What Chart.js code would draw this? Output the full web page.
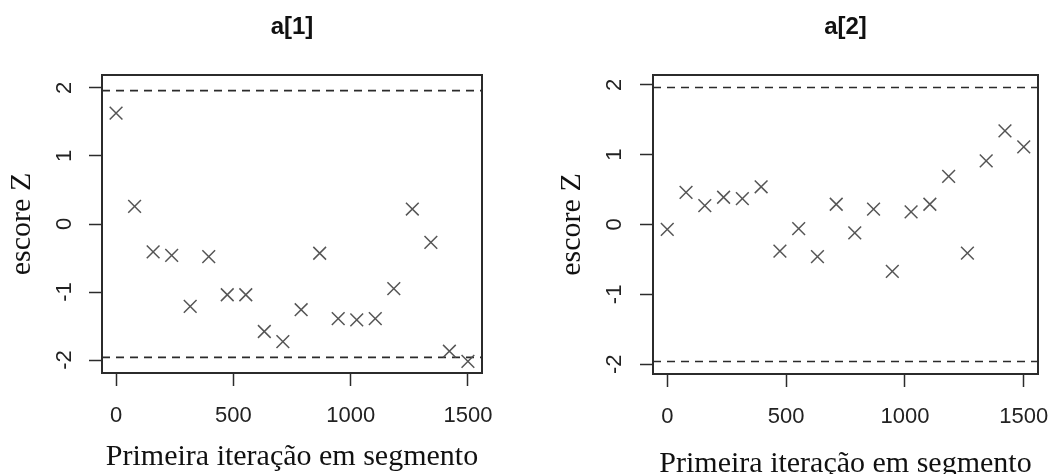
<!DOCTYPE html>
<html>
<head>
<meta charset="utf-8">
<script src="https://cdn.jsdelivr.net/npm/chart.js@4"></script>
<style>
    body { margin: 0; background: #fff; overflow: hidden; }
    canvas { position: absolute; top: 0; }
    #panelA1 { left: 0; }
    #panelA2 { left: 530px; }
</style>
</head>
<body>
<canvas id="panelA1" width="530" height="474"></canvas>
<canvas id="panelA2" width="523" height="474"></canvas>
<script>
// first iteration of each segment (20 segments)
const iterStart = [0, 79, 158, 237, 316, 395, 474, 553, 632, 711, 789, 868, 947, 1026, 1105, 1184, 1263, 1342, 1421, 1500];

// Geweke z-scores
const zA1 = [1.63, 0.26, -0.41, -0.46, -1.21, -0.48, -1.04, -1.04, -1.58, -1.73, -1.26, -0.43, -1.39, -1.41, -1.39, -0.95, 0.22, -0.27, -1.87, -2.02];
const zA2 = [-0.07, 0.46, 0.27, 0.39, 0.37, 0.54, -0.38, -0.06, -0.46, 0.29, -0.12, 0.22, -0.67, 0.18, 0.29, 0.69, -0.41, 0.91, 1.34, 1.11];

const xTicks = [0, 500, 1000, 1500];
const yTicks = [-2, -1, 0, 1, 2];
const zCrit = [-1.96, 1.96];
const xRange = [-60, 1560];
const yLimA1 = 2.19;
const yLimA2 = 2.14;

const xLabel = "Primeira iteração em segmento";
const yLabel = "escore Z";

const ink = "#2b2b2b";
const sans = "'Liberation Sans', Arial, sans-serif";
const serif = "'Liberation Serif', 'Times New Roman', serif";

function makePanel(id, title, z, yLim, g) {
    let ctx = document.getElementById(id);

    let points = iterStart.map((x, i) => ({ x: x, y: z[i] }));

    // dashed +-1.96 reference lines
    let refLines = zCrit.map(c => ({
        type: "line",
        data: [{ x: xRange[0], y: c }, { x: xRange[1], y: c }],
        borderColor: ink,
        borderWidth: 1.6,
        borderDash: [8, 6],
        pointRadius: 0,
        fill: false
    }));

    return new Chart(ctx, {
        type: "scatter",
        data: {
            datasets: [{
                data: points,
                pointStyle: "crossRot",
                pointRadius: 9,
                borderColor: "#555",
                backgroundColor: "rgba(0,0,0,0)",
                pointBorderWidth: 1.5
            }, ...refLines]
        },
        options: {
            responsive: false,
            animation: false,
            events: [],
            layout: { padding: 0 },
            plugins: {
                legend: { display: false },
                tooltip: { enabled: false }
            },
            scales: {
                x: {
                    type: "linear",
                    position: "bottom",
                    min: xRange[0],
                    max: xRange[1],
                    afterBuildTicks: s => { s.ticks = xTicks.map(v => ({ value: v })); },
                    afterFit: s => {
                        s.height = 474 - g.bottom;
                        s.paddingLeft = 0;
                        s.paddingRight = 0;
                    },
                    grid: { drawOnChartArea: false, tickLength: 13, tickWidth: 1.5, tickColor: ink },
                    border: { display: true, width: 2, color: ink },
                    ticks: {
                        color: "#222",
                        font: { family: sans, size: 22 },
                        padding: g.xTickPad,
                        maxRotation: 0,
                        autoSkip: false,
                        callback: v => String(v)
                    },
                    title: {
                        display: true,
                        text: xLabel,
                        color: "#111",
                        font: { family: serif, size: 30 },
                        padding: { top: 0, bottom: g.xTitlePad }
                    }
                },
                x2: {
                    type: "linear",
                    position: "top",
                    afterFit: s => { s.height = g.top; },
                    grid: { display: false },
                    border: { display: true, width: 2, color: ink },
                    ticks: { display: false },
                    title: {
                        display: true,
                        text: title,
                        color: "#111",
                        font: { family: sans, size: 24, weight: "bold" },
                        padding: { top: 13, bottom: 0 }
                    }
                },
                y: {
                    type: "linear",
                    position: "left",
                    min: -yLim,
                    max: yLim,
                    afterBuildTicks: s => { s.ticks = yTicks.map(v => ({ value: v })); },
                    afterFit: s => {
                        s.width = g.left;
                        s.paddingTop = 0;
                        s.paddingBottom = 0;
                    },
                    grid: { drawOnChartArea: false, tickLength: 13, tickWidth: 1.5, tickColor: ink },
                    border: { display: true, width: 2, color: ink },
                    ticks: {
                        color: "#222",
                        font: { family: sans, size: 22 },
                        padding: g.yTickPad,
                        minRotation: 90,
                        maxRotation: 90,
                        crossAlign: "center",
                        autoSkip: false,
                        callback: v => String(v)
                    },
                    title: {
                        display: true,
                        text: yLabel,
                        color: "#111",
                        font: { family: serif, size: 30 },
                        padding: { top: g.yTitlePad, bottom: 0 }
                    }
                },
                y2: {
                    type: "linear",
                    position: "right",
                    afterFit: s => { s.width = g.width - g.right; },
                    grid: { display: false },
                    border: { display: true, width: 2, color: ink },
                    ticks: { display: false }
                }
            }
        }
    });
}

makePanel("panelA1", "a[1]", zA1, yLimA1, {
    width: 530, left: 102, right: 482, top: 75, bottom: 373,
    xTickPad: 17, xTitlePad: -1, yTickPad: 14, yTitlePad: 4
});

makePanel("panelA2", "a[2]", zA2, yLimA2, {
    width: 523, left: 123, right: 508, top: 75, bottom: 374,
    xTickPad: 17, xTitlePad: -8, yTickPad: 15, yTitlePad: 24
});
</script>
</body>
</html>
